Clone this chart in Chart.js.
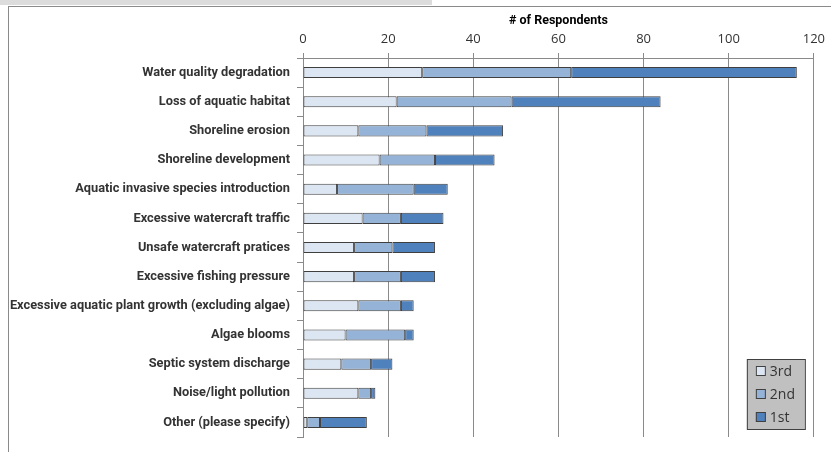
<!DOCTYPE html>
<html>
<head>
    <title># of Respondents</title>
    <script src="https://cdn.jsdelivr.net/npm/chart.js"></script>
    <style>
        body { margin: 0; background: #fff; }
        #band { position: absolute; left: 0; top: 0; width: 432px; height: 5px; background: #dcdcdc; }
        #frame { position: absolute; left: 8px; top: 6px; width: 840px; height: 460px;
                 border-left: 1px solid #8a8a8a; border-top: 1px solid #8a8a8a; }
        #wrap { position: absolute; left: 0; top: 0; }
    </style>
</head>
<body>
    <div id="band"></div>
    <div id="frame"></div>
    <div id="wrap">
        <canvas id="respChart" width="831" height="452"></canvas>
    </div>
    <script>
        // values (stacked counts)
        const issues = [
            'Water quality degradation',
            'Loss of aquatic habitat',
            'Shoreline erosion',
            'Shoreline development',
            'Aquatic invasive species introduction',
            'Excessive watercraft traffic',
            'Unsafe watercraft pratices',
            'Excessive fishing pressure',
            'Excessive aquatic plant growth (excluding algae)',
            'Algae blooms',
            'Septic system discharge',
            'Noise/light pollution',
            'Other (please specify)'
        ];
        const third  = [28, 22, 13, 18,  8, 14, 12, 12, 13, 10, 9, 13, 1];
        const second = [35, 27, 16, 13, 18,  9,  9, 11, 10, 14, 7,  3, 3];
        const first  = [53, 35, 18, 14,  8, 10, 10,  8,  3,  2, 5,  1, 11];
        const xTicks = [0, 20, 40, 60, 80, 100, 120];

        const gridGrey = '#8a8a8a';
        const edge = '#3f3f3f';

        // legend box inside the plot, bottom right
        const boxLegend = {
            id: 'boxLegend',
            afterDraw(chart) {
                const ctx = chart.ctx;
                const area = chart.chartArea;
                const w = 58, h = 70;
                const x = area.right - 9 - w;
                const y = area.bottom - 8 - h;
                ctx.save();
                ctx.fillStyle = '#c0c0c0';
                ctx.fillRect(x, y, w, h);
                ctx.strokeStyle = '#404040';
                ctx.lineWidth = 1;
                ctx.strokeRect(x + 0.5, y + 0.5, w, h);
                ctx.font = '14px "Open Sans", sans-serif';
                ctx.textBaseline = 'middle';
                chart.data.datasets.forEach((ds, i) => {
                    const cy = y + 12 + i * 23;
                    ctx.fillStyle = ds.backgroundColor;
                    ctx.fillRect(x + 9, cy - 5, 10, 10);
                    ctx.strokeStyle = '#404040';
                    ctx.strokeRect(x + 9.5, cy - 4.5, 9, 9);
                    ctx.fillStyle = '#333';
                    ctx.fillText(ds.label, x + 23, cy + 1);
                });
                ctx.restore();
            }
        };

        const ctx = document.getElementById('respChart').getContext('2d');
        const respChart = new Chart(ctx, {
            type: 'bar',
            data: {
                labels: issues,
                datasets: [
                    { label: '3rd', data: third,  backgroundColor: '#dce6f2' },
                    { label: '2nd', data: second, backgroundColor: '#95b3d7' },
                    { label: '1st', data: first,  backgroundColor: '#4f81bd' },
                ],
            },
            options: {
                indexAxis: 'y',
                responsive: false,
                animation: false,
                layout: { padding: { left: 0, right: 15, top: 0, bottom: 15 } },
                datasets: {
                    bar: {
                        borderColor: edge,
                        borderWidth: 1,
                        borderSkipped: false,
                        categoryPercentage: 1,
                        barPercentage: 0.38,
                    },
                },
                plugins: {
                    legend: { display: false },
                    tooltip: { enabled: false },
                },
                scales: {
                    x: {
                        position: 'top',
                        stacked: true,
                        min: 0,
                        max: 120,
                        afterBuildTicks: (scale) => { scale.ticks = xTicks.map(v => ({ value: v })); },
                        afterFit: (scale) => { scale.height = 58; },
                        border: { display: true, color: gridGrey },
                        grid: { color: gridGrey, tickLength: 5, tickColor: gridGrey },
                        ticks: {
                            color: '#333',
                            padding: 6,
                            font: { family: 'Open Sans', size: 13 },
                        },
                        title: {
                            display: true,
                            text: '# of Respondents',
                            color: '#000',
                            padding: { top: 13, bottom: 0 },
                            font: { family: 'Roboto', size: 12.5, weight: 'bold' },
                        },
                    },
                    y: {
                        stacked: true,
                        afterFit: (scale) => { scale.width = 303; },
                        border: { display: true, color: gridGrey },
                        grid: {
                            offset: true,
                            tickLength: 6,
                            tickColor: gridGrey,
                            color: (c) => (c.index === issues.length ? gridGrey : 'rgba(0,0,0,0)'),
                        },
                        ticks: {
                            color: '#333',
                            padding: 7,
                            autoSkip: false,
                            font: { family: 'Roboto', size: 12.8, weight: 'bold' },
                        },
                    },
                },
            },
            plugins: [boxLegend],
        });
    </script>
</body>
</html>
